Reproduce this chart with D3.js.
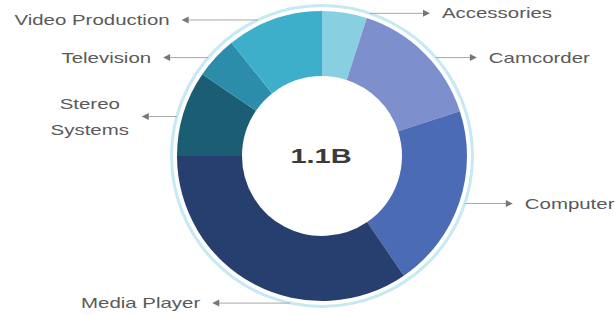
<!DOCTYPE html>
<html>
<head>
<meta charset="utf-8">
<script src="https://cdn.jsdelivr.net/npm/d3@7"></script>
<style>
  body { margin: 0; background: #fff; }
  text { font-family: "Liberation Sans", Arial, sans-serif; }
</style>
</head>
<body>
<div id="chart"></div>
<script>
// segment data, clockwise from 12 o'clock (values in millions)
const categories = ["Accessories", "Camcorder", "Computer", "Media Player", "Stereo Systems", "Television", "Video Production"]
const values = [55, 165, 225, 380, 105, 52, 118]
const totalLabel = "1.1B"

const colors = ["#88d0e1", "#7d8fcc", "#4b6bb4", "#263f6e", "#1b5d73", "#2b8daa", "#3eafcb"]

// leader layout: vertical nudge from the arc point and length of the leader line
const labelDy = [6, 8, -1, 14, 5, 4, 6]
const leaderLen = [60, 41, 48, 78, 35, 45, 76]

const width = 615, height = 315
const cx = 322, cy = 156
const innerR = 80, outerR = 145, ringR = 150.5
const stretch = 1.46

const svg = d3.select("#chart")
    .append("svg")
    .attr("width", width)
    .attr("height", height)

const g = svg.append("g")
    .attr("transform", `translate(${cx},${cy})`)

const data = categories.map((c, i) => ({ name: c, value: values[i], color: colors[i], dy: labelDy[i], len: leaderLen[i] }))

const pie = d3.pie()
    .sort(null)
    .value(d => d.value)

const arc = d3.arc()
    .innerRadius(innerR)
    .outerRadius(outerR)

const arcs = pie(data)

// outer light ring
g.append("circle")
    .attr("r", ringR)
    .attr("fill", "none")
    .attr("stroke", "#c6e9f4")
    .attr("stroke-width", 3)

g.selectAll("path.slice")
    .data(arcs)
    .join("path")
    .attr("class", "slice")
    .attr("d", arc)
    .attr("fill", d => d.data.color)

// centre total
g.append("text")
    .attr("transform", "translate(-1,7) scale(1.45,1)")
    .attr("text-anchor", "middle")
    .attr("font-size", 20)
    .attr("font-weight", "bold")
    .attr("fill", "#3a3a3a")
    .text(totalLabel)

// leaders + labels
arcs.forEach(d => {
    const mid = (d.startAngle + d.endAngle) / 2
    const right = Math.sin(mid) >= 0
    const dir = right ? 1 : -1
    const y = -ringR * Math.cos(mid) + d.data.dy
    const x0 = dir * Math.sqrt(Math.max(0, ringR * ringR - y * y))
    const tip = x0 + dir * d.data.len

    g.append("line")
        .attr("x1", x0).attr("y1", y)
        .attr("x2", tip - dir * 4).attr("y2", y)
        .attr("stroke", "#a8a8a8")
        .attr("stroke-width", 1)

    g.append("path")
        .attr("d", `M${tip},${y} L${tip - dir * 7},${y - 3.5} L${tip - dir * 7},${y + 3.5} Z`)
        .attr("fill", "#777")

    const twoLine = d.data.name === "Stereo Systems"
    const lines = twoLine ? ["Stereo", "Systems"] : [d.data.name]
    const tx = twoLine ? tip - 12 - 40 : tip + dir * 12
    const anchor = twoLine ? "middle" : (right ? "start" : "end")
    lines.forEach((t, k) => {
        const ly = y + 5 + (k - (lines.length - 1) / 2) * 26
        g.append("text")
            .attr("transform", `translate(${tx},${ly}) scale(${stretch},1)`)
            .attr("text-anchor", anchor)
            .attr("font-size", 14)
            .attr("fill", "#5a5a5a")
            .text(t)
    })
})
</script>
</body>
</html>
